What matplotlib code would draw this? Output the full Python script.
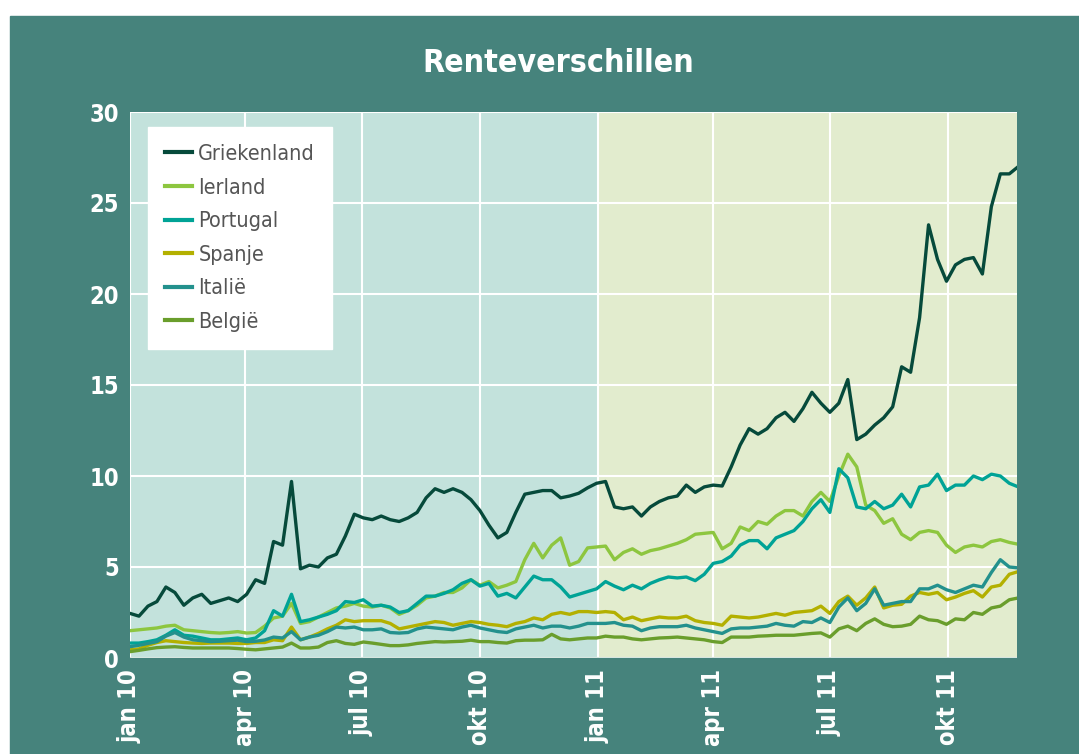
import pandas as pd
import matplotlib.pyplot as plt
from matplotlib.patches import Rectangle

# weekly readings, starting 1 jan 2010
start = '2010-01-01'
n_weeks = 100

griekenland = [
    2.45, 2.3, 2.85, 3.1, 3.9, 3.6, 2.9, 3.3, 3.5, 3.0,
    3.15, 3.3, 3.1, 3.5, 4.3, 4.1, 6.4, 6.2, 9.7, 4.9,
    5.1, 5.0, 5.5, 5.7, 6.7, 7.9, 7.7, 7.6, 7.8, 7.6,
    7.5, 7.7, 8.0, 8.8, 9.3, 9.1, 9.3, 9.1, 8.7, 8.1,
    7.3, 6.6, 6.9, 8.0, 9.0, 9.1, 9.2, 9.2, 8.8, 8.9,
    9.05, 9.35, 9.6, 9.7, 8.3, 8.2, 8.3, 7.8, 8.3, 8.6,
    8.8, 8.9, 9.5, 9.1, 9.4, 9.5, 9.45, 10.5, 11.7, 12.6,
    12.3, 12.6, 13.2, 13.5, 13.0, 13.7, 14.6, 14.0, 13.5, 14.0,
    15.3, 12.0, 12.3, 12.8, 13.2, 13.8, 16.0, 15.7, 18.7, 23.8,
    21.9, 20.7, 21.6, 21.9, 22.0, 21.1, 24.8, 26.6, 26.6, 27.0,
]
ierland = [
    1.5, 1.55, 1.6, 1.65, 1.75, 1.8, 1.55, 1.5, 1.45, 1.4,
    1.37, 1.4, 1.45, 1.37, 1.4, 1.75, 2.2, 2.3, 3.0, 1.9,
    2.0, 2.25, 2.5, 2.75, 2.85, 3.0, 2.85, 2.8, 2.9, 2.75,
    2.4, 2.6, 2.9, 3.3, 3.4, 3.6, 3.6, 3.85, 4.3, 4.0,
    4.2, 3.85, 4.0, 4.2, 5.4, 6.3, 5.5, 6.2, 6.6, 5.1,
    5.3, 6.05, 6.1, 6.15, 5.4, 5.8, 6.0, 5.7, 5.9, 6.0,
    6.15, 6.3, 6.5, 6.8, 6.85, 6.9, 6.0, 6.3, 7.2, 7.0,
    7.5, 7.35, 7.8, 8.1, 8.1, 7.8, 8.6, 9.1, 8.6, 10.0,
    11.2, 10.5, 8.4, 8.1, 7.4, 7.65, 6.8, 6.5, 6.9, 7.0,
    6.9, 6.2, 5.8, 6.1, 6.2, 6.1, 6.4, 6.5, 6.35, 6.25,
]
portugal = [
    0.82, 0.82, 0.9, 1.0, 1.25, 1.55, 1.25, 1.2, 1.1, 1.0,
    1.0, 1.05, 1.1, 1.0, 1.1, 1.5, 2.6, 2.3, 3.5, 2.0,
    2.1, 2.25, 2.4, 2.6, 3.1, 3.05, 3.2, 2.85, 2.9, 2.8,
    2.5, 2.6, 3.0, 3.4, 3.4, 3.55, 3.75, 4.1, 4.3, 3.95,
    4.1, 3.4, 3.55, 3.3, 3.9, 4.5, 4.3, 4.3, 3.9, 3.35,
    3.5, 3.65, 3.8, 4.2, 3.95, 3.75, 4.0, 3.8, 4.1, 4.3,
    4.45, 4.4, 4.45, 4.25, 4.6, 5.2, 5.3, 5.6, 6.2, 6.45,
    6.45, 6.0, 6.6, 6.8, 7.0, 7.5, 8.2, 8.7, 8.0, 10.4,
    9.9, 8.3, 8.2, 8.6, 8.2, 8.4, 9.0, 8.3, 9.4, 9.5,
    10.1, 9.2, 9.5, 9.5, 10.0, 9.8, 10.1, 10.0, 9.6, 9.4,
]
spanje = [
    0.45, 0.5, 0.7, 0.85, 0.95, 0.9, 0.85, 0.82, 0.8, 0.82,
    0.82, 0.82, 0.8, 0.8, 0.85, 0.85, 1.0, 0.95, 1.7, 1.0,
    1.15, 1.35, 1.6, 1.8, 2.1, 2.0, 2.05, 2.05, 2.05, 1.9,
    1.6, 1.7, 1.8, 1.9, 2.0, 1.95, 1.8, 1.9, 2.0, 1.95,
    1.85, 1.8, 1.72, 1.9, 2.0, 2.2, 2.1, 2.4, 2.5, 2.4,
    2.55, 2.55, 2.5, 2.55, 2.5, 2.1, 2.25, 2.05, 2.15, 2.25,
    2.2, 2.2, 2.3, 2.05, 1.95, 1.9, 1.8, 2.3, 2.25, 2.2,
    2.25, 2.35, 2.45, 2.35, 2.5, 2.55, 2.6, 2.85, 2.45, 3.1,
    3.4, 2.9, 3.3, 3.9, 2.75, 2.9, 2.95, 3.4, 3.6, 3.5,
    3.6, 3.2, 3.35, 3.55, 3.7, 3.35, 3.9, 4.0, 4.6, 4.75,
]
italie = [
    0.62, 0.7, 0.8, 0.9, 1.2, 1.4, 1.15, 1.0, 0.95, 0.9,
    0.92, 0.95, 0.98, 0.9, 0.92, 0.99, 1.15, 1.1, 1.45, 1.0,
    1.15, 1.25, 1.45, 1.7, 1.65, 1.7, 1.55, 1.55, 1.6, 1.4,
    1.37, 1.4, 1.6, 1.7, 1.65, 1.6, 1.55, 1.7, 1.8, 1.65,
    1.55, 1.45, 1.4, 1.6, 1.7, 1.8, 1.65, 1.75, 1.75, 1.65,
    1.75, 1.9, 1.9, 1.9, 1.95, 1.8, 1.75, 1.5, 1.65, 1.72,
    1.72, 1.72, 1.8, 1.65, 1.55, 1.45, 1.35, 1.6, 1.65, 1.65,
    1.7, 1.75, 1.9, 1.8, 1.75, 2.0, 1.95, 2.2, 1.95, 2.8,
    3.3, 2.6, 3.0, 3.8, 2.9, 3.0, 3.1, 3.1, 3.8, 3.8,
    4.0, 3.75, 3.6, 3.8, 4.0, 3.9, 4.7, 5.4, 5.0, 4.95,
]
belgie = [
    0.35, 0.42, 0.5, 0.57, 0.6, 0.62, 0.58, 0.55, 0.55, 0.55,
    0.55, 0.55, 0.52, 0.48, 0.45, 0.5, 0.55, 0.6, 0.82, 0.55,
    0.55, 0.6, 0.85, 0.95, 0.8, 0.75, 0.88, 0.82, 0.75, 0.68,
    0.68, 0.72, 0.8, 0.85, 0.9, 0.88, 0.9, 0.92, 0.98, 0.9,
    0.9, 0.85, 0.82, 0.95, 0.98, 0.98, 1.0, 1.3, 1.05, 1.0,
    1.05, 1.1, 1.1, 1.2, 1.15, 1.15, 1.05, 1.0, 1.05, 1.1,
    1.12, 1.15, 1.1, 1.05, 1.0, 0.9, 0.85, 1.15, 1.15, 1.15,
    1.2, 1.22, 1.25, 1.25, 1.25, 1.3, 1.35, 1.38, 1.15, 1.6,
    1.75, 1.5, 1.9, 2.15, 1.85, 1.72, 1.75, 1.85, 2.3, 2.1,
    2.05, 1.85, 2.15, 2.1, 2.5, 2.4, 2.75, 2.85, 3.2, 3.3,
]

landen = ['Griekenland', 'Ierland', 'Portugal', 'Spanje', 'Italië', 'België']
kleuren = ['#064a3b', '#8dc63f', '#00a396', '#b3b000', '#23918d', '#6a9e2c']
tick_dates = ['2010-01-01', '2010-04-01', '2010-07-01', '2010-10-01',
              '2011-01-01', '2011-04-01', '2011-07-01', '2011-10-01']
tick_labels = ['jan 10', 'apr 10', 'jul 10', 'okt 10',
               'jan 11', 'apr 11', 'jul 11', 'okt 11']

TEAL = '#46837c'
plt.rcParams['font.family'] = ['DejaVu Sans']
plt.rcParams['font.stretch'] = 'condensed'

dates = pd.date_range(start, periods=n_weeks, freq='7D')
series = [griekenland, ierland, portugal, spanje, italie, belgie]

fig = plt.figure(figsize=(10.79, 7.54), dpi=100, facecolor='white')
fig.patches.append(Rectangle((10 / 1079, 0), 1, 1 - 16 / 754,
                             transform=fig.transFigure, color=TEAL, zorder=-5))

ax = fig.add_axes([130 / 1079, 1 - 658 / 754, 887 / 1079, 546 / 754])
ax.set_facecolor('#e2ecce')
ax.axvspan(pd.Timestamp('2010-01-01'), pd.Timestamp('2011-01-01'),
           color='#c3e2dc', lw=0, zorder=0)

for naam, kleur, vals in zip(landen, kleuren, series):
    ax.plot(dates, vals, color=kleur, lw=2.4, label=naam, zorder=3)

ax.set_xlim(pd.Timestamp('2010-01-01'), pd.Timestamp('2011-11-24'))
ax.set_ylim(0, 30)
ax.set_yticks(range(0, 31, 5))
ax.set_xticks(pd.to_datetime(tick_dates))
ax.set_xticklabels(tick_labels, rotation=90, va='top', ha='center')
ax.grid(True, color='white', lw=1.5, zorder=1)
ax.set_axisbelow(True)
for s in ax.spines.values():
    s.set_visible(False)
ax.axhline(0, color='#d6e6e0', lw=1.5, zorder=2)
ax.tick_params(length=0, colors='white', labelsize=17, pad=8)
for lbl in ax.get_xticklabels() + ax.get_yticklabels():
    lbl.set_fontweight('bold')

leg = ax.legend(loc='upper left', bbox_to_anchor=(0.02, 0.973), frameon=True,
                fancybox=False, fontsize=15.5, handlelength=1.25, handletextpad=0.3,
                labelspacing=0.63, borderpad=0.8, borderaxespad=0)
leg.get_frame().set_facecolor('white')
leg.get_frame().set_edgecolor('white')
leg.get_frame().set_alpha(1)
for t in leg.get_texts():
    t.set_color('#555555')
for h in leg.get_lines():
    h.set_linewidth(3)

fig.text(558 / 1079, 1 - 63 / 754, 'Renteverschillen', color='white',
         fontsize=23, fontweight='bold', ha='center', va='center')

fig.savefig('out.png', dpi=100, facecolor=fig.get_facecolor())
